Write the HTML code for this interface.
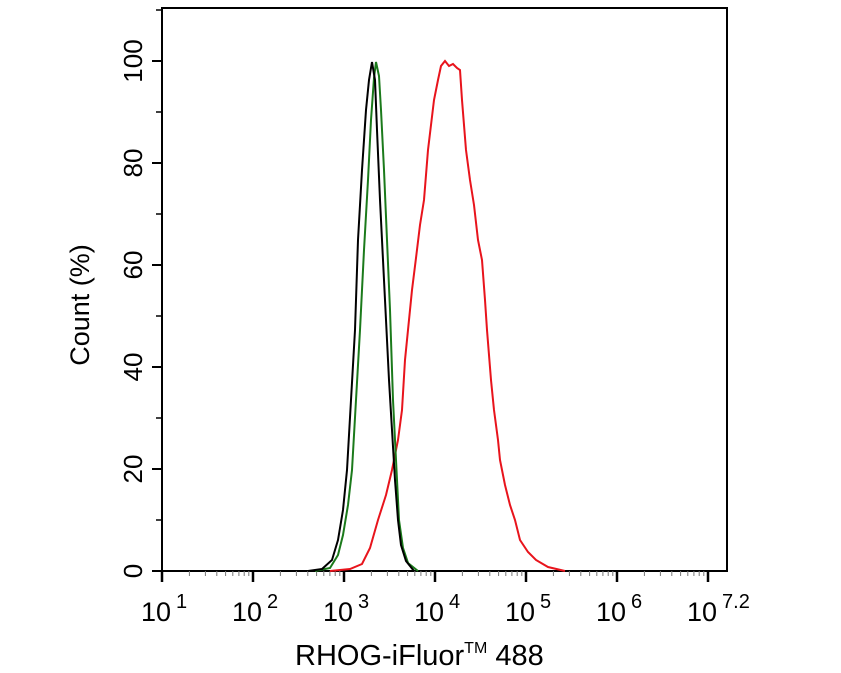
<!DOCTYPE html>
<html><head><meta charset="utf-8"><style>body{margin:0;background:#fff}svg{display:block}</style></head><body>
<svg width="841" height="673" viewBox="0 0 841 673" xmlns="http://www.w3.org/2000/svg" font-family="Liberation Sans, sans-serif">
<defs>
<g id="dec" stroke="#000">
<line x1="0" y1="571" x2="0" y2="582" stroke-width="2.5"/>
<g stroke-width="1" stroke="#777">
<line x1="27.4" y1="571" x2="27.4" y2="576"/><line x1="43.4" y1="571" x2="43.4" y2="576"/><line x1="54.8" y1="571" x2="54.8" y2="576"/><line x1="63.6" y1="571" x2="63.6" y2="576"/><line x1="70.8" y1="571" x2="70.8" y2="576"/><line x1="76.9" y1="571" x2="76.9" y2="576"/><line x1="82.2" y1="571" x2="82.2" y2="576"/><line x1="86.8" y1="571" x2="86.8" y2="576"/>
</g></g>
</defs>
<rect x="162" y="8" width="565" height="563" fill="none" stroke="#000" stroke-width="2"/>
<g stroke="#000" stroke-width="2">
<line x1="152" y1="571" x2="162" y2="571"/><line x1="152" y1="469" x2="162" y2="469"/><line x1="152" y1="367" x2="162" y2="367"/><line x1="152" y1="265" x2="162" y2="265"/><line x1="152" y1="163" x2="162" y2="163"/><line x1="152" y1="61" x2="162" y2="61"/>
</g>
<g stroke="#000" stroke-width="1.5">
<line x1="156" y1="520" x2="162" y2="520"/><line x1="156" y1="418" x2="162" y2="418"/><line x1="156" y1="316" x2="162" y2="316"/><line x1="156" y1="214" x2="162" y2="214"/><line x1="156" y1="112" x2="162" y2="112"/><line x1="156" y1="10" x2="162" y2="10"/>
</g>
<use href="#dec" x="162"/><use href="#dec" x="253"/><use href="#dec" x="344"/><use href="#dec" x="435"/><use href="#dec" x="526"/><use href="#dec" x="617"/>
<line x1="708" y1="571" x2="708" y2="582" stroke="#000" stroke-width="2.5"/>
<g font-size="26" fill="#000" text-anchor="middle">
<text transform="translate(133,571) rotate(-90)" dy="9">0</text>
<text transform="translate(133,469) rotate(-90)" dy="9">20</text>
<text transform="translate(133,367) rotate(-90)" dy="9">40</text>
<text transform="translate(133,265) rotate(-90)" dy="9">60</text>
<text transform="translate(133,163) rotate(-90)" dy="9">80</text>
<text transform="translate(133,61) rotate(-90)" dy="9">100</text>
<text transform="translate(80,305) rotate(-90)" dy="9" font-size="27">Count  (%)</text>
</g>
<g font-size="27" fill="#000">
<text x="141" y="621">10<tspan font-size="20" dy="-13" dx="5">1</tspan></text>
<text x="232" y="621">10<tspan font-size="20" dy="-13" dx="5">2</tspan></text>
<text x="323" y="621">10<tspan font-size="20" dy="-13" dx="5">3</tspan></text>
<text x="414" y="621">10<tspan font-size="20" dy="-13" dx="5">4</tspan></text>
<text x="505" y="621">10<tspan font-size="20" dy="-13" dx="5">5</tspan></text>
<text x="596" y="621">10<tspan font-size="20" dy="-13" dx="5">6</tspan></text>
<text x="687" y="621">10<tspan font-size="20" dy="-13" dx="5">7.2</tspan></text>
<text x="295" y="665" font-size="29">RHOG-iFluor<tspan font-size="16" dy="-12">TM</tspan><tspan dy="12"> 488</tspan></text>
</g>
<polyline fill="none" stroke="#e8141c" stroke-width="2" points="330,571 350,569 362,564 370,548 378,520 386,495 392,470 398,440 402,410 405,360 408,330 412,290 416,258 420,225 424,200 428,150 431,125 434,100 438,80 441,66 445,61 449,66 453,64 457,68 460,70 462,100 464,125 466,150 470,180 474,205 478,240 482,260 485,300 487,330 491,380 494,410 498,440 500,460 505,485 510,505 515,520 520,540 528,552 536,560 548,567 565,571"/>
<polyline fill="none" stroke="#1b7a1b" stroke-width="2" points="315,571 330,568 338,555 343,535 348,505 352,470 356,400 360,330 364,250 368,180 371,120 374,78 376,62 379,76 381,110 384,170 387,240 390,310 393,400 396,460 399,520 403,548 408,563 418,571"/>
<polyline fill="none" stroke="#000" stroke-width="2" points="308,571 322,569 332,560 338,540 343,510 347,470 351,400 355,330 358,240 362,170 366,110 369,80 372,62 375,80 377,130 380,200 382,240 385,300 389,380 392,430 395,480 398,520 401,545 406,561 414,571"/>
</svg>
</body></html>
